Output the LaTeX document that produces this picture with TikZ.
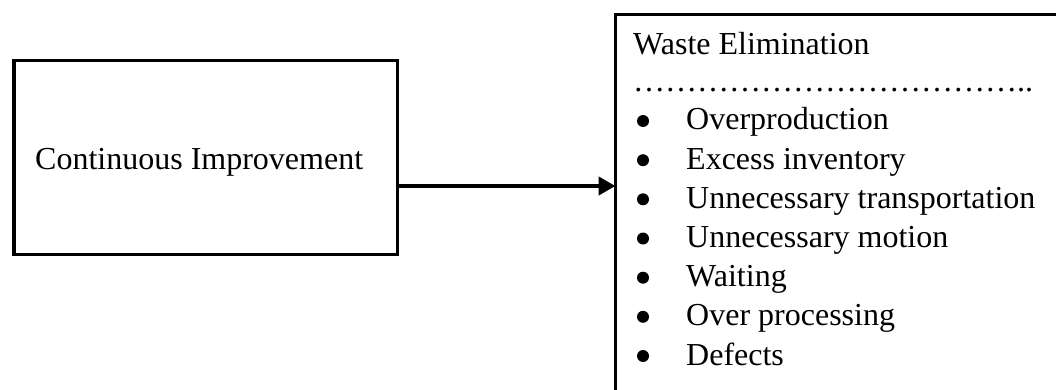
\documentclass[tikz,border=0pt]{standalone}
\usepackage{fontspec}
\setmainfont{Liberation Serif}
\usepackage{tikz}
\usetikzlibrary{arrows.meta}
\newcommand{\elli}{…}
\tikzset{
  frame/.style={draw=black, line width=3.5pt, inner sep=0pt, outer sep=0pt, fill=white},
  lab/.style={text=black, inner sep=0pt, anchor=base west, font=\fontsize{32}{38}\selectfont},
  dot/.style={fill=black},
  link/.style={line width=4.5pt, -{Triangle[length=17pt,width=18pt]}}
}
\begin{document}
\begin{tikzpicture}[x=1pt, y=-1pt]
  \useasboundingbox (0,0) rectangle (1056,390);
  \clip (0,0) rectangle (1056,390);
  \fill[white] (0,0) rectangle (1056,390);

  % left box
  \node[frame, anchor=north west, minimum width=383.5pt, minimum height=194pt] (improve) at (14,60.5) {};
  \node[lab] (improvetxt) at (35,170) {Continuous Improvement};

  % right box, runs past the page edge
  \node[frame, anchor=north west, minimum width=470pt, minimum height=400pt] (waste) at (615.5,14.5) {};
  \node[lab] (wastetitle) at (633,55) {Waste Elimination};
  \node[lab] (wastedots) at (633,92) {\elli\elli\elli\elli\elli\elli\elli\elli\elli\elli\elli\elli..};

  % list
  \fill[dot] (643,121) circle (6);
  \node[lab] (over) at (686,130) {Overproduction};
  \fill[dot] (643,160.2) circle (6);
  \node[lab] (excess) at (686,169.2) {Excess inventory};
  \fill[dot] (643,199.3) circle (6);
  \node[lab] (transport) at (686,208.3) {Unnecessary transportation};
  \fill[dot] (643,238.5) circle (6);
  \node[lab] (motion) at (686,247.5) {Unnecessary motion};
  \fill[dot] (643,277.7) circle (6);
  \node[lab] (waiting) at (686,286.7) {Waiting};
  \fill[dot] (643,316.8) circle (6);
  \node[lab] (processing) at (686,325.8) {Over processing};
  \fill[dot] (643,356) circle (6);
  \node[lab] (defects) at (686,365) {Defects};

  % connector
  \coordinate (level) at (0,186);
  \draw[link] (improve.east |- level) -- (waste.west |- level);
\end{tikzpicture}
\end{document}
